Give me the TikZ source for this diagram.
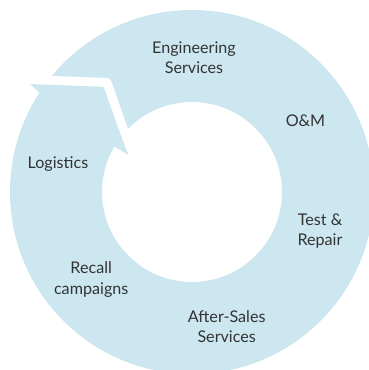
\documentclass[tikz,border=0pt]{standalone}
\usepackage{fontspec}
\setmainfont{Lato}
\definecolor{ringblue}{RGB}{204,231,240}
\definecolor{labelgray}{RGB}{51,51,51}
\begin{document}
\begin{tikzpicture}[x=1bp,y=-1bp,
  lbl/.style={text=labelgray, font=\fontsize{16.2}{20}\selectfont, inner sep=0pt, anchor=base},
  gap/.style={white, line width=9bp, line join=round}]
\useasboundingbox (0,0) rectangle (369,370);
\begin{scope}
  \clip (0,0) rectangle (369,370);
  \coordinate (c) at (192,192);
  % the ring
  \fill[ringblue, even odd rule] (c) circle[radius=182bp] (c) circle[radius=90bp];
  % white notch between tail and head
  \draw[gap] (5,78.8) -- (107,82.5) -- (139,174);
  % chevron arrowhead with barbs reaching past both rims
  \fill[ringblue] (40,93.3) -- (30,84) [rounded corners=3bp] -- (103,87) [sharp corners] -- (128.3,155) -- (115,146.7) -- (80,120) -- cycle;
\end{scope}
% labels
\node[lbl] (eng1) at (194,53.3) {Engineering};
\node[lbl] (eng2) at (194,73.3) {Services};
\node[lbl] (om) at (305.5,126) {O\&M};
\node[lbl] (tr1) at (320,225) {Test \&};
\node[lbl] (tr2) at (320,245) {Repair};
\node[lbl] (as1) at (226.7,322.7) {After-Sales};
\node[lbl] (as2) at (226.7,342.7) {Services};
\node[lbl] (rc1) at (91.2,273.3) {Recall};
\node[lbl] (rc2) at (91.2,294) {campaigns};
\node[lbl] (lg) at (58,168) {Logistics};
\end{tikzpicture}
\end{document}
